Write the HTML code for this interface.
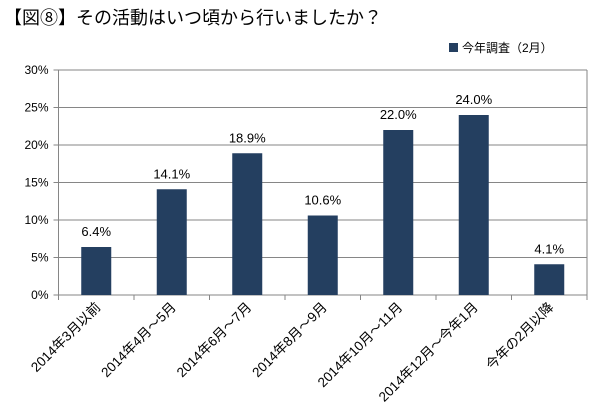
<!DOCTYPE html>
<html><head><meta charset="utf-8"><style>
body{margin:0;background:#fff;}
svg{display:block;font-family:"Liberation Sans","Noto Sans CJK JP",sans-serif;}
</style></head><body>
<svg id="chart" width="600" height="420">
<text x="4" y="24" font-size="18" fill="#000">【図⑧】その活動はいつ頃から行いましたか？</text>
<rect x="449" y="43" width="9" height="9" fill="#243f60"/>
<text x="462" y="52" font-size="12" fill="#000">今年調査（2月）</text>
<g id="grid"></g><g id="bars"></g><g id="labels"></g>
</svg>
<script>
const categories=["2014年3月以前","2014年4月～5月","2014年6月～7月","2014年8月～9月","2014年10月～11月","2014年12月～今年1月","今年の2月以降"];
const values=[6.4,14.1,18.9,10.6,22.0,24.0,4.1];
const yTicks=[0,5,10,15,20,25,30];
const NS="http://www.w3.org/2000/svg";
const x0=58.5,x1=587,y0=295,yTop=70,yMax=30;
const bw=(x1-x0)/categories.length;
function y(v){return y0-(v/yMax)*(y0-yTop);}
function xc(i){return x0+bw*(i+0.5);}
function mk(t,a,p){const e=document.createElementNS(NS,t);for(const k in a)e.setAttribute(k,a[k]);p.appendChild(e);return e;}
const g=document.getElementById('grid'),b=document.getElementById('bars'),l=document.getElementById('labels');
yTicks.forEach(t=>{
 const ln=mk('line',{x1:x0-5,x2:x1,y1:y(t),y2:y(t),stroke:'#868686','stroke-width':1},g);
 
 
 const tx=mk('text',{x:x0-10,y:y(t)+4,'text-anchor':'end','font-size':12,fill:'#000'},g);
 tx.textContent=t+'%';
 
 
});
const ax=mk('line',{x1:x0,x2:x0,y1:yTop,y2:y0,stroke:'#868686'},g);


const ar=mk('line',{x1:x1,x2:x1,y1:yTop,y2:y0+5,stroke:'#868686'},g);


for(let i=0;i<=categories.length;i++){
 const tk=mk('line',{x1:x0+bw*i,x2:x0+bw*i,y1:y0,y2:y0+5,stroke:'#868686'},g);
 
 
}
categories.forEach((c,i)=>{
 const r=mk('rect',{x:xc(i)-15,y:y(values[i]),width:30,height:y0-y(values[i]),fill:'#243f60'},b);
 
 
 const v=mk('text',{x:xc(i),y:y(values[i])-11,'text-anchor':'middle','font-size':13,fill:'#000'},l);
 v.textContent=values[i].toFixed(1)+'%';
 
 
 const cx=xc(i)+5,cy=y0+13;
 const t=mk('text',{x:cx,y:cy,'text-anchor':'end','font-size':13.5,fill:'#000',transform:`rotate(-45 ${cx} ${cy})`},l);
 t.textContent=c;
 
 
});
</script>
</body></html>
